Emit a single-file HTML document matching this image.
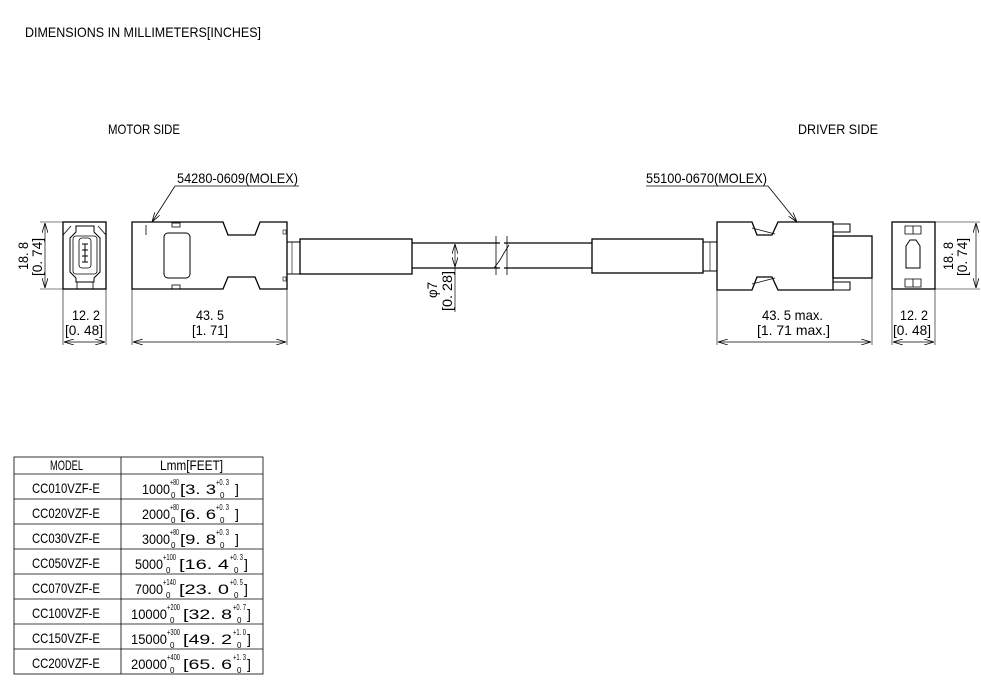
<!DOCTYPE html>
<html><head><meta charset="utf-8"><style>
html,body{margin:0;padding:0;background:#fff}
svg{display:block}
text{font-family:"Liberation Sans","Noto Sans CJK JP",sans-serif;fill:#000}
</style></head><body>
<svg width="981" height="687" viewBox="0 0 981 687" xmlns="http://www.w3.org/2000/svg">
<defs>
<marker id="a" viewBox="0 0 10 6" refX="10" refY="3" markerWidth="10" markerHeight="6" orient="auto-start-reverse" markerUnits="userSpaceOnUse"><path d="M0,0 L10,3 L0,6" fill="none" stroke="#000" stroke-width="0.8"/></marker>
</defs>
<g font-size="14">
<text x="25" y="37" textLength="236" lengthAdjust="spacingAndGlyphs">DIMENSIONS IN MILLIMETERS[INCHES]</text>
<text x="108" y="134" textLength="72" lengthAdjust="spacingAndGlyphs">MOTOR SIDE</text>
<text x="798" y="134" textLength="80" lengthAdjust="spacingAndGlyphs">DRIVER SIDE</text>
<text x="177" y="183" textLength="121" lengthAdjust="spacingAndGlyphs">54280-0609(MOLEX)</text>
<text x="646" y="183" textLength="121" lengthAdjust="spacingAndGlyphs">55100-0670(MOLEX)</text>
</g>
<g fill="none" stroke="#000" stroke-width="1">
<line x1="175" y1="186" x2="299" y2="186" stroke-width="0.8"/>
<line x1="175" y1="186" x2="152" y2="222" stroke-width="0.8" marker-end="url(#a)"/>
<line x1="646" y1="186" x2="768" y2="186" stroke-width="0.8"/>
<line x1="768" y1="186" x2="797" y2="222" stroke-width="0.8" marker-end="url(#a)"/>
<rect x="63" y="222" width="43" height="67" stroke-width="1.3"/>
<path d="M63,235 L71,226 M106,235 L98,226" stroke-width="0.8"/>
<path d="M76,226 H94 V232 L100,238 V272 L94,278 V282 H76 V278 L70,272 V238 L76,232 Z" stroke-width="1"/>
<rect x="73" y="236" width="24" height="38" rx="3" stroke-width="0.8"/>
<rect x="79" y="238" width="12" height="30" rx="3" stroke-width="0.8"/>
<path d="M82,244 H88 M82,250 H88 M82,256 H88 M82,262 H88 M85,244 V262" stroke-width="1"/>
<rect x="77" y="282" width="16" height="7" stroke-width="0.8"/>
<path d="M132,222 H223 L228,235 H255 L260,222 H287 V289 H260 L255,277 H228 L223,289 H132 Z" stroke-width="1.3"/>
<line x1="146" y1="225" x2="146" y2="235" stroke-width="0.8"/>
<rect x="164" y="233" width="26" height="45" rx="4" stroke-width="1"/>
<rect x="172" y="223" width="8" height="4" stroke-width="0.8"/>
<rect x="172" y="285" width="8" height="4" stroke-width="0.8"/>
<rect x="283" y="230" width="3" height="4" stroke-width="0.6"/>
<rect x="283" y="277" width="3" height="4" stroke-width="0.6"/>
<rect x="287" y="242" width="13" height="32" stroke-width="1"/>
<line x1="292" y1="242" x2="292" y2="274" stroke-width="0.6"/>
<rect x="300" y="239" width="112" height="35" stroke-width="1.3"/>
<path d="M412,243 H500 M412,268 H500 M504,243 H592 M504,268 H592" stroke-width="1.3"/>
<path d="M496,236 V275 M507,236 V275 M494,268 L500,260 L504,253 L509,245" stroke-width="0.8"/>
<rect x="592" y="239" width="111" height="34" stroke-width="1.3"/>
<rect x="703" y="242" width="14" height="29" stroke-width="1"/>
<line x1="710" y1="242" x2="710" y2="271" stroke-width="0.6"/>
<path d="M717,222 H752 L757,235 H772 L778,222 H833 V290 H778 L772,277 H757 L752,290 H717 Z" stroke-width="1.3"/>
<path d="M752,228 L775,234 M752,284 L775,278" stroke-width="0.8"/>
<path d="M833,224 H850 V232 H833 M833,282 H850 V290 H833" stroke-width="1"/>
<rect x="833" y="236" width="39" height="42" stroke-width="1.3"/>
<rect x="892" y="222" width="43" height="67" stroke-width="1.3"/>
<path d="M905,226 H921 V234 H905 Z M913,226 V234 M905,279 H921 V287 H905 Z M913,279 V287" stroke-width="0.8"/>
<path d="M906,246 L910,240 H916 L920,246 V268 H906 Z" stroke-width="1"/>
<g stroke-width="0.6">
<line x1="63" y1="289" x2="63" y2="345"/><line x1="106" y1="289" x2="106" y2="345"/>
<line x1="132" y1="289" x2="132" y2="345"/><line x1="287" y1="289" x2="287" y2="345"/>
<line x1="717" y1="290" x2="717" y2="345"/><line x1="872" y1="278" x2="872" y2="345"/>
<line x1="892" y1="289" x2="892" y2="345"/><line x1="935" y1="289" x2="935" y2="345"/>
<line x1="40" y1="222" x2="63" y2="222"/><line x1="40" y1="289" x2="63" y2="289"/>
<line x1="935" y1="222" x2="980" y2="222"/><line x1="935" y1="289" x2="980" y2="289"/>
<line x1="446" y1="243" x2="460" y2="243"/><line x1="446" y1="268" x2="460" y2="268"/>
</g>
<g stroke-width="0.7">
<line x1="64" y1="342" x2="105" y2="342" marker-start="url(#a)" marker-end="url(#a)"/>
<line x1="133" y1="342" x2="286" y2="342" marker-start="url(#a)" marker-end="url(#a)"/>
<line x1="718" y1="342" x2="871" y2="342" marker-start="url(#a)" marker-end="url(#a)"/>
<line x1="893" y1="342" x2="934" y2="342" marker-start="url(#a)" marker-end="url(#a)"/>
<line x1="45" y1="223" x2="45" y2="288" marker-start="url(#a)" marker-end="url(#a)"/>
<line x1="976" y1="223" x2="976" y2="288" marker-start="url(#a)" marker-end="url(#a)"/>
<line x1="455" y1="244" x2="455" y2="267" marker-start="url(#a)" marker-end="url(#a)"/>
<line x1="455" y1="267" x2="455" y2="312"/>
</g>
</g>
<g font-size="14">
<text x="72" y="320" textLength="28" lengthAdjust="spacingAndGlyphs">12. 2</text>
<text x="65" y="335" textLength="38" lengthAdjust="spacingAndGlyphs">[0. 48]</text>
<text x="196" y="320" textLength="28" lengthAdjust="spacingAndGlyphs">43. 5</text>
<text x="192" y="335" textLength="36" lengthAdjust="spacingAndGlyphs">[1. 71]</text>
<text x="762" y="320" textLength="61" lengthAdjust="spacingAndGlyphs">43. 5 max.</text>
<text x="757" y="335" textLength="73" lengthAdjust="spacingAndGlyphs">[1. 71 max.]</text>
<text x="900" y="320" textLength="28" lengthAdjust="spacingAndGlyphs">12. 2</text>
<text x="893" y="335" textLength="38" lengthAdjust="spacingAndGlyphs">[0. 48]</text>
<text transform="translate(28,270) rotate(-90)" textLength="28" lengthAdjust="spacingAndGlyphs">18. 8</text>
<text transform="translate(42,276) rotate(-90)" textLength="38" lengthAdjust="spacingAndGlyphs">[0. 74]</text>
<text transform="translate(953,270) rotate(-90)" textLength="28" lengthAdjust="spacingAndGlyphs">18. 8</text>
<text transform="translate(967,276) rotate(-90)" textLength="38" lengthAdjust="spacingAndGlyphs">[0. 74]</text>
<text transform="translate(437,298) rotate(-90)" textLength="16" lengthAdjust="spacingAndGlyphs">φ7</text>
<text transform="translate(452,311) rotate(-90)" textLength="40" lengthAdjust="spacingAndGlyphs">[0. 28]</text>
</g>
<g fill="none" stroke="#000" stroke-width="0.8">
<rect x="14" y="457" width="249" height="217"/>
<line x1="121" y1="457" x2="121" y2="674"/>
<line x1="14" y1="474" x2="263" y2="474"/>
<line x1="14" y1="499" x2="263" y2="499"/>
<line x1="14" y1="524" x2="263" y2="524"/>
<line x1="14" y1="549" x2="263" y2="549"/>
<line x1="14" y1="574" x2="263" y2="574"/>
<line x1="14" y1="599" x2="263" y2="599"/>
<line x1="14" y1="624" x2="263" y2="624"/>
<line x1="14" y1="649" x2="263" y2="649"/>
</g>
<g font-size="14">
<text x="50" y="470" textLength="33" lengthAdjust="spacingAndGlyphs">MODEL</text>
<text x="160" y="470" textLength="63" lengthAdjust="spacingAndGlyphs">Lmm[FEET]</text>
<text x="32" y="493" textLength="68" lengthAdjust="spacingAndGlyphs">CC010VZF-E</text>
<text x="32" y="518" textLength="68" lengthAdjust="spacingAndGlyphs">CC020VZF-E</text>
<text x="32" y="543" textLength="68" lengthAdjust="spacingAndGlyphs">CC030VZF-E</text>
<text x="32" y="568" textLength="68" lengthAdjust="spacingAndGlyphs">CC050VZF-E</text>
<text x="32" y="593" textLength="68" lengthAdjust="spacingAndGlyphs">CC070VZF-E</text>
<text x="32" y="618" textLength="68" lengthAdjust="spacingAndGlyphs">CC100VZF-E</text>
<text x="32" y="643" textLength="68" lengthAdjust="spacingAndGlyphs">CC150VZF-E</text>
<text x="32" y="668" textLength="68" lengthAdjust="spacingAndGlyphs">CC200VZF-E</text>
</g>
<g font-size="14">
<text x="142" y="494" textLength="28" lengthAdjust="spacingAndGlyphs">1000</text><text x="180" y="494" textLength="36" lengthAdjust="spacingAndGlyphs">[3. 3</text><text x="235" y="494">]</text>
<text x="142" y="519" textLength="28" lengthAdjust="spacingAndGlyphs">2000</text><text x="180" y="519" textLength="36" lengthAdjust="spacingAndGlyphs">[6. 6</text><text x="235" y="519">]</text>
<text x="142" y="544" textLength="28" lengthAdjust="spacingAndGlyphs">3000</text><text x="180" y="544" textLength="36" lengthAdjust="spacingAndGlyphs">[9. 8</text><text x="235" y="544">]</text>
<text x="135" y="569" textLength="28" lengthAdjust="spacingAndGlyphs">5000</text><text x="179" y="569" textLength="50" lengthAdjust="spacingAndGlyphs">[16. 4</text><text x="244" y="569">]</text>
<text x="135" y="594" textLength="28" lengthAdjust="spacingAndGlyphs">7000</text><text x="179" y="594" textLength="50" lengthAdjust="spacingAndGlyphs">[23. 0</text><text x="244" y="594">]</text>
<text x="131" y="619" textLength="36" lengthAdjust="spacingAndGlyphs">10000</text><text x="183" y="619" textLength="49" lengthAdjust="spacingAndGlyphs">[32. 8</text><text x="247" y="619">]</text>
<text x="131" y="644" textLength="36" lengthAdjust="spacingAndGlyphs">15000</text><text x="183" y="644" textLength="49" lengthAdjust="spacingAndGlyphs">[49. 2</text><text x="247" y="644">]</text>
<text x="131" y="669" textLength="36" lengthAdjust="spacingAndGlyphs">20000</text><text x="183" y="669" textLength="49" lengthAdjust="spacingAndGlyphs">[65. 6</text><text x="247" y="669">]</text>
</g>
<g font-size="8">
<text x="170" y="485" textLength="9" lengthAdjust="spacingAndGlyphs">+80</text><text x="171" y="498">0</text>
<text x="216" y="485" textLength="13" lengthAdjust="spacingAndGlyphs">+0. 3</text><text x="220" y="498">0</text>
<text x="170" y="510" textLength="9" lengthAdjust="spacingAndGlyphs">+80</text><text x="171" y="523">0</text>
<text x="216" y="510" textLength="13" lengthAdjust="spacingAndGlyphs">+0. 3</text><text x="220" y="523">0</text>
<text x="170" y="535" textLength="9" lengthAdjust="spacingAndGlyphs">+80</text><text x="171" y="548">0</text>
<text x="216" y="535" textLength="13" lengthAdjust="spacingAndGlyphs">+0. 3</text><text x="220" y="548">0</text>
<text x="163" y="560" textLength="13" lengthAdjust="spacingAndGlyphs">+100</text><text x="166" y="573">0</text>
<text x="230" y="560" textLength="13" lengthAdjust="spacingAndGlyphs">+0. 3</text><text x="234" y="573">0</text>
<text x="163" y="585" textLength="13" lengthAdjust="spacingAndGlyphs">+140</text><text x="166" y="598">0</text>
<text x="230" y="585" textLength="13" lengthAdjust="spacingAndGlyphs">+0. 5</text><text x="234" y="598">0</text>
<text x="167" y="610" textLength="13" lengthAdjust="spacingAndGlyphs">+200</text><text x="170" y="623">0</text>
<text x="233" y="610" textLength="13" lengthAdjust="spacingAndGlyphs">+0. 7</text><text x="237" y="623">0</text>
<text x="167" y="635" textLength="13" lengthAdjust="spacingAndGlyphs">+300</text><text x="170" y="648">0</text>
<text x="233" y="635" textLength="13" lengthAdjust="spacingAndGlyphs">+1. 0</text><text x="237" y="648">0</text>
<text x="167" y="660" textLength="13" lengthAdjust="spacingAndGlyphs">+400</text><text x="170" y="673">0</text>
<text x="233" y="660" textLength="13" lengthAdjust="spacingAndGlyphs">+1. 3</text><text x="237" y="673">0</text>
</g>
</svg>
</body></html>
